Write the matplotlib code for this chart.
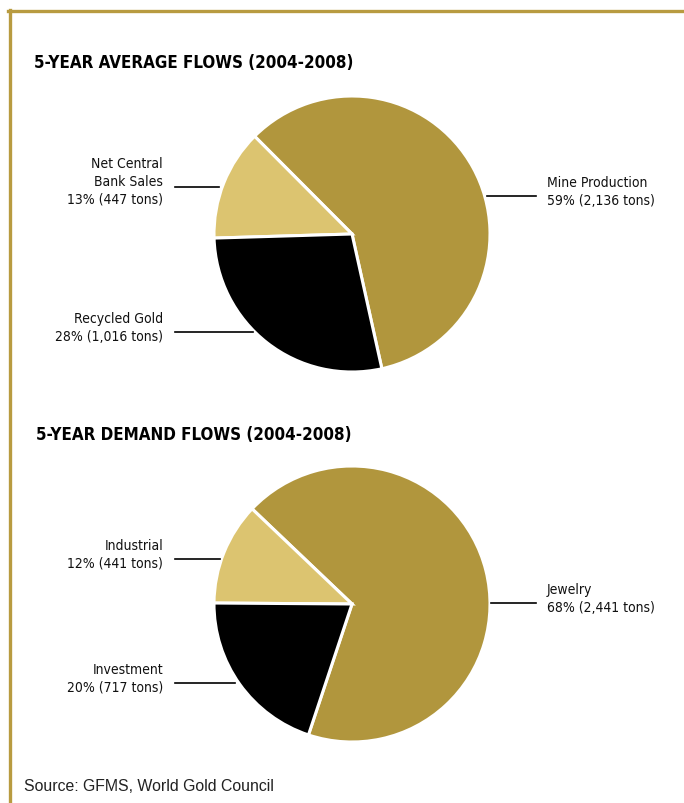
import matplotlib.pyplot as plt
from matplotlib.lines import Line2D

# ---- data -------------------------------------------------------------------
supply_labels = ["Mine Production", "Net Central\nBank Sales", "Recycled Gold"]
supply_pct = [59, 13, 28]
supply_tons = [2136, 447, 1016]

demand_labels = ["Jewelry", "Industrial", "Investment"]
demand_pct = [68, 12, 20]
demand_tons = [2441, 441, 717]

GOLD = "#B1963D"
GOLD_LIGHT = "#DCC470"
BLACK = "#000000"
BORDER = "#B89B40"

NARROW = ["DejaVu Sans"]
W, H = 684, 804

fig = plt.figure(figsize=(W / 100, H / 100), dpi=100)
ax = fig.add_axes([0, 0, 1, 1])


def Y(y):
    # pixel row (from top) -> data y
    return H - y


# frame: gold line on top and left
fig.add_artist(Line2D([8 / W, 1], [Y(12) / H] * 2, color=BORDER, lw=2.4))
fig.add_artist(Line2D([10 / W] * 2, [0, Y(11) / H], color=BORDER, lw=2.4))


def draw_pie(cy, pct, start):
    ax.pie(pct, colors=[GOLD, GOLD_LIGHT, BLACK], startangle=start,
           counterclock=True, center=(352, Y(cy)), radius=138,
           wedgeprops={"edgecolor": "white", "linewidth": 2.2})


def label(x, y, txt, ha):
    ax.text(x, Y(y), txt, ha=ha, va="center", fontsize=10,
            family=NARROW, fontstretch="condensed", linespacing=1.35,
            color="#111")


def leader(x0, x1, y):
    ax.plot([x0, x1], [Y(y), Y(y)], color="black", lw=1.2)


def fmt(name, p, t):
    return f"{name}\n{p}% ({t:,} tons)"


# ---- supply -----------------------------------------------------------------
ax.text(34, Y(63), "5-YEAR AVERAGE FLOWS (2004-2008)", fontsize=12.2,
        fontweight="bold", family=NARROW, fontstretch="condensed",
        va="center", ha="left")
draw_pie(235, supply_pct, -77.5)
label(547, 192, fmt(supply_labels[0], supply_pct[0], supply_tons[0]), "left")
label(163, 182, fmt(supply_labels[1], supply_pct[1], supply_tons[1]), "right")
label(163, 328, fmt(supply_labels[2], supply_pct[2], supply_tons[2]), "right")
leader(487, 536, 197)
leader(175, 219, 188)
leader(175, 253, 333)

# ---- demand -----------------------------------------------------------------
ax.text(36, Y(435), "5-YEAR DEMAND FLOWS (2004-2008)", fontsize=12.2,
        fontweight="bold", family=NARROW, fontstretch="condensed",
        va="center", ha="left")
draw_pie(605, demand_pct, 251.6)
label(547, 599, fmt(demand_labels[0], demand_pct[0], demand_tons[0]), "left")
label(163, 555, fmt(demand_labels[1], demand_pct[1], demand_tons[1]), "right")
label(163, 679, fmt(demand_labels[2], demand_pct[2], demand_tons[2]), "right")
leader(491, 536, 604)
leader(175, 220, 560)
leader(175, 235, 684)

ax.text(24, Y(787), "Source: GFMS, World Gold Council", fontsize=11.4,
        family=["Liberation Sans", "DejaVu Sans"], va="center", ha="left",
        color="#222")

# pie() resets the limits, so set them last
ax.set_xlim(0, W)
ax.set_ylim(0, H)
ax.set_aspect("equal")
ax.axis("off")

fig.savefig("out.png", dpi=100, facecolor="white")
